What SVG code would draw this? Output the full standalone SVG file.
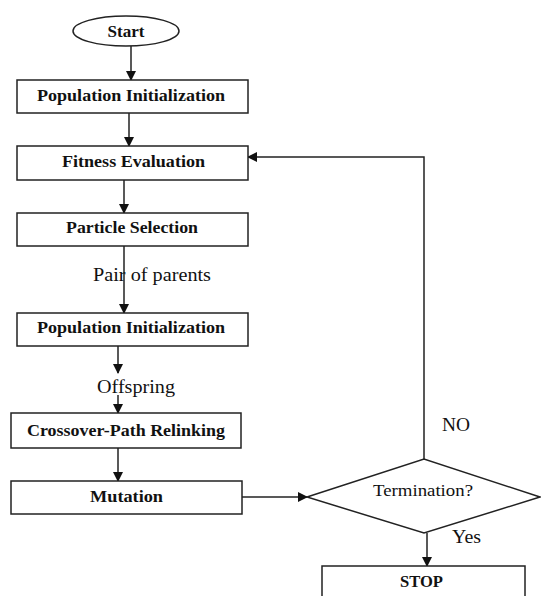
<svg xmlns="http://www.w3.org/2000/svg" width="541" height="596" viewBox="0 0 541 596">
<defs>
<marker id="ah" markerWidth="10" markerHeight="10" refX="9" refY="5" orient="auto" markerUnits="userSpaceOnUse">
<path d="M0,0 L10,5 L0,10 z" fill="#111"/>
</marker>
<style>
.box{fill:#fff;stroke:#222;stroke-width:1.5}
.lbl{font-family:'Liberation Serif','DejaVu Serif',serif;font-weight:bold;font-size:17px;fill:#111;text-anchor:middle}
.nrm{font-weight:normal}
.txt{font-family:'Liberation Serif','DejaVu Serif',serif;font-size:18px;fill:#111}
.ln{fill:none;stroke:#222;stroke-width:1.5}
</style>
</defs>
<rect width="541" height="596" fill="#fff"/>
<g id="connectors">
<line class="ln" x1="131" y1="46" x2="131" y2="80" marker-end="url(#ah)"/>
<line class="ln" x1="129" y1="113" x2="129" y2="146" marker-end="url(#ah)"/>
<line class="ln" x1="124" y1="180" x2="124" y2="213" marker-end="url(#ah)"/>
<line class="ln" x1="124" y1="246" x2="124" y2="313" marker-end="url(#ah)"/>
<line class="ln" x1="118" y1="346" x2="118" y2="373" marker-end="url(#ah)"/>
<line class="ln" x1="118" y1="395" x2="118" y2="413" marker-end="url(#ah)"/>
<line class="ln" x1="118" y1="448" x2="118" y2="481" marker-end="url(#ah)"/>
<line class="ln" x1="242" y1="497" x2="307" y2="497" marker-end="url(#ah)"/>
<polyline class="ln" points="424,459 424,157 248,157" marker-end="url(#ah)"/>
<line class="ln" x1="427" y1="533" x2="427" y2="566" marker-end="url(#ah)"/>
</g>
<g id="start">
<ellipse cx="126" cy="31" rx="53" ry="15" class="box"/>
<text x="126" y="37" class="lbl" textLength="37" lengthAdjust="spacingAndGlyphs">Start</text>
</g>
<g id="popinit1">
<rect x="17" y="80" width="231" height="33" class="box"/>
<text x="131" y="101" class="lbl" textLength="188" lengthAdjust="spacingAndGlyphs">Population Initialization</text>
</g>
<g id="fitness">
<rect x="17" y="146" width="231" height="34" class="box"/>
<text x="133.5" y="167" class="lbl" textLength="143" lengthAdjust="spacingAndGlyphs">Fitness Evaluation</text>
</g>
<g id="selection">
<rect x="17" y="213" width="231" height="33" class="box"/>
<text x="132" y="233" class="lbl" textLength="132" lengthAdjust="spacingAndGlyphs">Particle Selection</text>
</g>
<text x="93" y="281" class="txt" textLength="118" lengthAdjust="spacingAndGlyphs">Pair of parents</text>
<g id="popinit2">
<rect x="17" y="313" width="231" height="33" class="box"/>
<text x="131" y="333" class="lbl" textLength="188" lengthAdjust="spacingAndGlyphs">Population Initialization</text>
</g>
<text x="97" y="393" class="txt" textLength="78" lengthAdjust="spacingAndGlyphs">Offspring</text>
<g id="crossover">
<rect x="11" y="413" width="230" height="35" class="box"/>
<text x="126" y="436" class="lbl" textLength="198" lengthAdjust="spacingAndGlyphs">Crossover-Path Relinking</text>
</g>
<g id="mutation">
<rect x="11" y="481" width="231" height="33" class="box"/>
<text x="126.5" y="502" class="lbl" textLength="73" lengthAdjust="spacingAndGlyphs">Mutation</text>
</g>
<g id="termination">
<polygon points="307,497 424,459 540,497 424,533" class="box"/>
<text x="423" y="496" class="lbl nrm" textLength="100" lengthAdjust="spacingAndGlyphs">Termination?</text>
</g>
<text x="442" y="431" class="txt" textLength="28" lengthAdjust="spacingAndGlyphs">NO</text>
<text x="452" y="543" class="txt" textLength="29" lengthAdjust="spacingAndGlyphs">Yes</text>
<g id="stop">
<rect x="322" y="566" width="203" height="40" class="box"/>
<text x="421.5" y="587" class="lbl" textLength="43" lengthAdjust="spacingAndGlyphs">STOP</text>
</g>
</svg>
